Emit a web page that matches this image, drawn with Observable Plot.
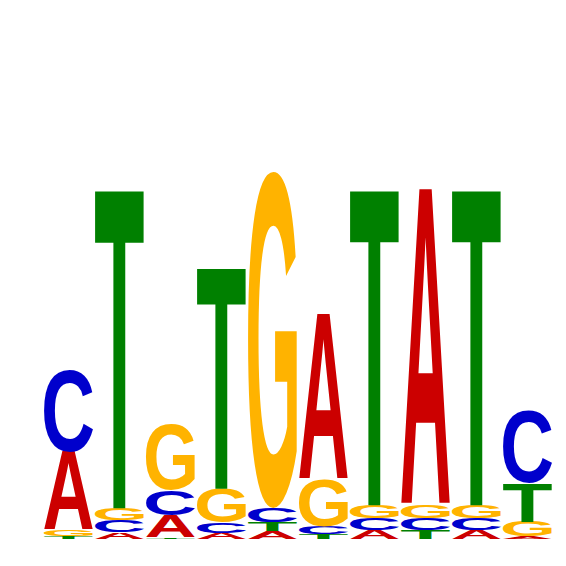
<!DOCTYPE html>
<html><head><meta charset="utf-8">
<script src="https://cdn.jsdelivr.net/npm/d3@7"></script>
<script src="https://cdn.jsdelivr.net/npm/@observablehq/plot@0.6"></script>
<style>body{margin:0;background:#fff}</style>
</head><body><div id="chart"></div>
<script>
// Sequence logo data (information content, bits)
const positions = [1, 2, 3, 4, 5, 6, 7, 8, 9, 10];
const bases = ["A", "C", "G", "T"];
const bitsA = [0.295, 0.025, 0.083, 0.023, 0.030, 0.624, 0.034, 1.198, 0.034, 0.009];
const bitsC = [0.310, 0.045, 0.095, 0.038, 0.053, 0.030, 0.045, 0.045, 0.045, 0.276];
const bitsG = [0.023, 0.046, 0.250, 0.129, 1.274, 0.178, 0.049, 0.049, 0.049, 0.057];
const bitsT = [0.011, 1.210, 0.006, 0.839, 0.034, 0.017, 1.198, 0.034, 1.198, 0.147];
const baseColors = ["#CC0000", "#0000CC", "#FFB300", "#008000"];

const series = [bitsA, bitsC, bitsG, bitsT];
const rows = [];
positions.forEach((p, i) => {
  const col = bases.map((b, j) => ({pos: p, base: b, bits: series[j][i]}));
  col.sort((a, b) => a.bits - b.bits);
  let acc = 0;
  for (const d of col) { d.y1 = acc; acc += d.bits; d.y2 = acc; rows.push(d); }
});

const plot = Plot.plot({
  width: 566, height: 566,
  marginLeft: 41, marginRight: 11, marginTop: 10, marginBottom: 27,
  x: {type: "band", domain: positions, paddingInner: 0.03, paddingOuter: 0.015, axis: null},
  y: {domain: [0, 2], axis: null},
  color: {domain: bases, range: baseColors},
  marks: [
    Plot.barY(rows, {x: "pos", y1: "y1", y2: "y2", fill: "base", fillOpacity: 0})
  ]
});
document.getElementById("chart").appendChild(plot);

// Draw stretched glyphs into each stacked cell, positioned via Plot's scales
const xs = plot.scale("x"), ys = plot.scale("y"), cs = plot.scale("color");
const ctx = document.createElement("canvas").getContext("2d");
const FONT = "'Liberation Sans', Arial, Helvetica, sans-serif";
ctx.font = "bold 200px " + FONT;
ctx.textAlign = "start";
ctx.textBaseline = "alphabetic";
const metrics = {};
for (const b of bases) {
  const m = ctx.measureText(b);
  metrics[b] = {
    left: -m.actualBoundingBoxLeft, right: m.actualBoundingBoxRight,
    top: -m.actualBoundingBoxAscent, bottom: m.actualBoundingBoxDescent
  };
}
const ns = "http://www.w3.org/2000/svg";
const g = document.createElementNS(ns, "g");
g.setAttribute("aria-label", "letters");
g.setAttribute("text-anchor", "start");
plot.appendChild(g);
for (const d of rows) {
  const x0 = xs.apply(d.pos);
  const w = xs.bandwidth;
  const yTop = ys.apply(d.y2), yBot = ys.apply(d.y1);
  const h = yBot - yTop;
  if (h < 0.2) continue;
  const m = metrics[d.base];
  const t = document.createElementNS(ns, "text");
  t.textContent = d.base;
  t.setAttribute("font-family", FONT);
  t.setAttribute("font-weight", "bold");
  t.setAttribute("font-size", "200");
  t.setAttribute("text-anchor", "start");
  t.setAttribute("dominant-baseline", "alphabetic");
  t.setAttribute("fill", cs.apply(d.base));
  t.setAttribute("transform",
    `translate(${x0},${yTop}) scale(${w / (m.right - m.left)},${h / (m.bottom - m.top)}) translate(${-m.left},${-m.top})`);
  g.appendChild(t);
}
</script>
</body></html>
